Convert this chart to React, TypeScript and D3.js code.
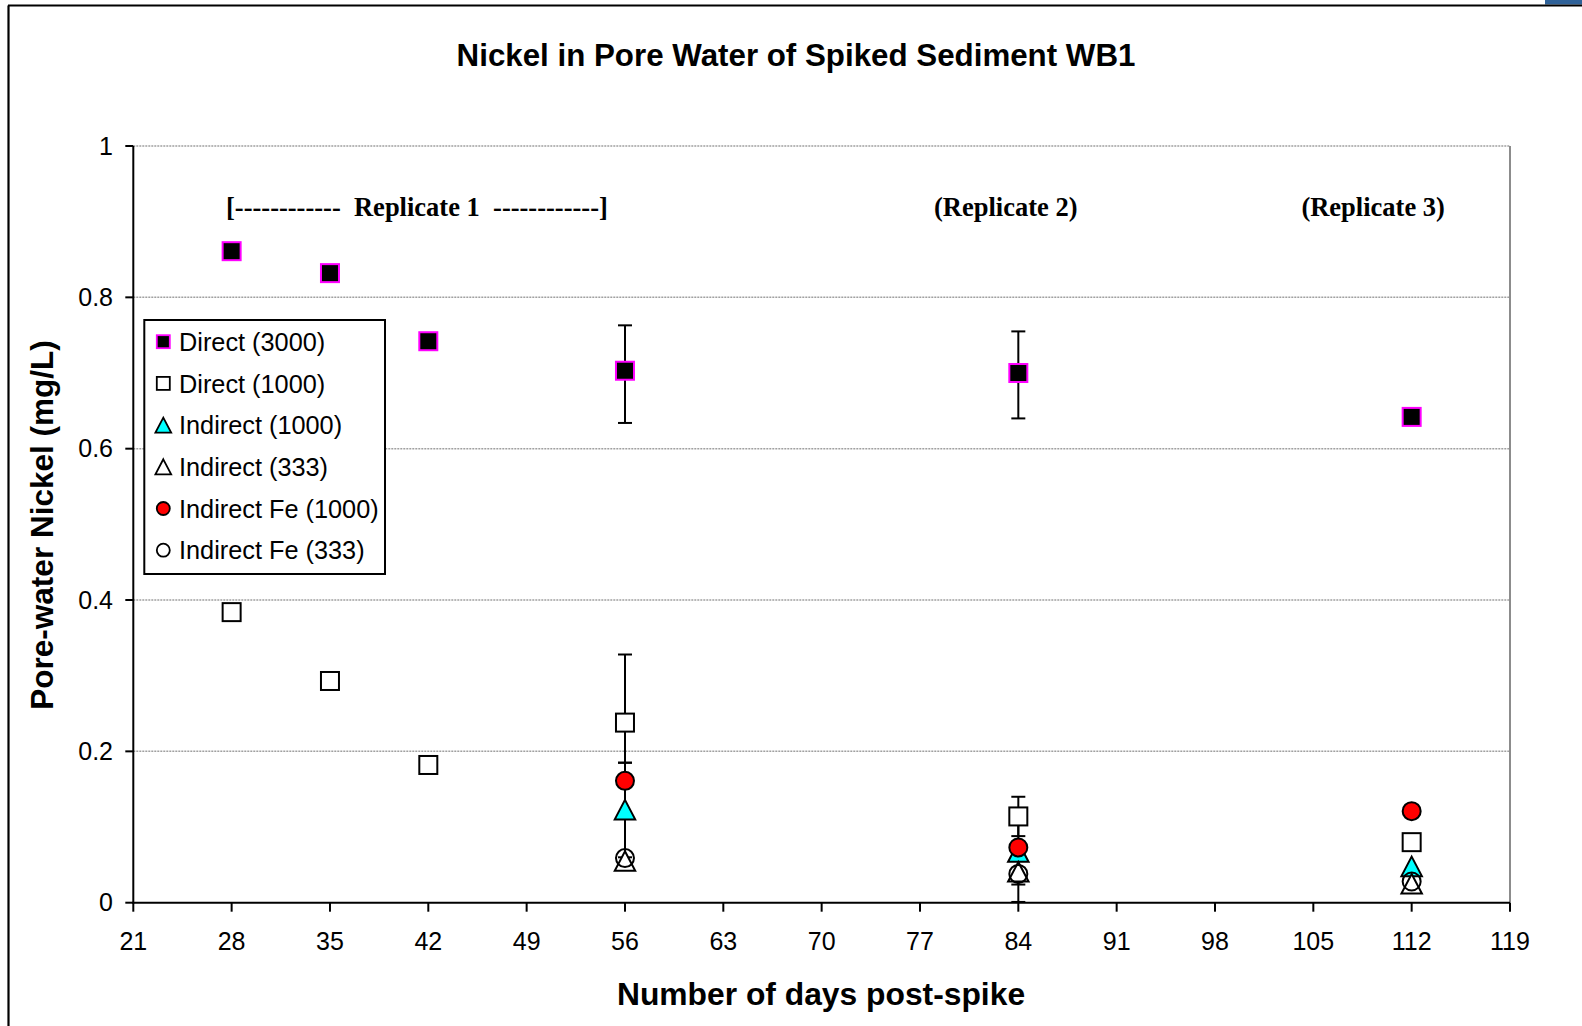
import React from "react";
import * as d3 from "d3";

const days = [28, 35, 42, 56, 84, 112];
const direct3000 = [0.861, 0.832, 0.742, 0.703, 0.700, 0.642];
const direct3000Low = [null, null, null, 0.634, 0.640, null];
const direct3000High = [null, null, null, 0.763, 0.755, null];
const direct1000 = [0.384, 0.293, 0.182, 0.238, 0.114, 0.080];
const direct1000Low = [null, null, null, 0.185, 0.088, null];
const direct1000High = [null, null, null, 0.328, 0.140, null];
const indirect1000 = [null, null, null, 0.123, 0.067, 0.048];
const indirect1000Low = [null, null, null, 0.060, 0.024, null];
const indirect1000High = [null, null, null, 0.185, 0.110, null];
const indirect333 = [null, null, null, 0.055, 0.041, 0.025];
const indirect333Low = [null, null, null, null, 0.001, null];
const indirect333High = [null, null, null, null, 0.080, null];
const indirectFe1000 = [null, null, null, 0.161, 0.073, 0.121];
const indirectFe333 = [null, null, null, 0.059, 0.038, 0.028];

const xTicks = [21, 28, 35, 42, 49, 56, 63, 70, 77, 84, 91, 98, 105, 112, 119];
const yTicks = [0, 0.2, 0.4, 0.6, 0.8, 1];
const seriesNames = [
  "Direct (3000)",
  "Direct (1000)",
  "Indirect (1000)",
  "Indirect (333)",
  "Indirect Fe (1000)",
  "Indirect Fe (333)",
];
const annotationTexts = ["[------------  Replicate 1  ------------]", "(Replicate 2)", "(Replicate 3)"];
const annotationDays = [27.6, 78.0, 104.15];

type Shape = "square" | "triangle" | "circle";
interface Series {
  name: string;
  values: (number | null)[];
  low?: (number | null)[];
  high?: (number | null)[];
  shape: Shape;
  fill: string;
  stroke: string;
}

const series: Series[] = [
  { name: seriesNames[0], values: direct3000, low: direct3000Low, high: direct3000High, shape: "square", fill: "#000000", stroke: "#ff00ff" },
  { name: seriesNames[1], values: direct1000, low: direct1000Low, high: direct1000High, shape: "square", fill: "#ffffff", stroke: "#000000" },
  { name: seriesNames[2], values: indirect1000, low: indirect1000Low, high: indirect1000High, shape: "triangle", fill: "#00ffff", stroke: "#000000" },
  { name: seriesNames[3], values: indirect333, low: indirect333Low, high: indirect333High, shape: "triangle", fill: "#ffffff", stroke: "#000000" },
  { name: seriesNames[4], values: indirectFe1000, shape: "circle", fill: "#ff0000", stroke: "#000000" },
  { name: seriesNames[5], values: indirectFe333, shape: "circle", fill: "none", stroke: "#000000" },
];

const W = 1582;
const H = 1026;
const left = 133.3;
const right = 1510;
const top = 146;
const bottom = 902.7;

const SANS = "'Liberation Sans', Arial, sans-serif";
const SERIF = "'Liberation Serif', 'Times New Roman', serif";

function Marker({ shape, cx, cy, size, fill, stroke, sw }: { shape: Shape; cx: number; cy: number; size: number; fill: string; stroke: string; sw: number }) {
  if (shape === "square") {
    return <rect x={cx - size / 2} y={cy - size / 2} width={size} height={size} fill={fill} stroke={stroke} strokeWidth={sw} />;
  }
  if (shape === "circle") {
    return <circle cx={cx} cy={cy} r={size / 2} fill={fill} stroke={stroke} strokeWidth={sw} />;
  }
  const h = size;
  const w = size * 1.05;
  const p = `M${cx},${cy - h / 2} L${cx + w / 2},${cy + h / 2} L${cx - w / 2},${cy + h / 2} Z`;
  return <path d={p} fill={fill} stroke={stroke} strokeWidth={sw} strokeLinejoin="miter" />;
}

export default function App() {
  const x = d3.scaleLinear().domain([21, 119]).range([left, right]);
  const y = d3.scaleLinear().domain([0, 1]).range([bottom, top]);

  const legendX = 144.3;
  const legendY = 320;
  const legendW = 240.7;
  const legendH = 254;
  const rowH = 41.7;

  return (
    <svg width={W} height={H} style={{ position: "absolute", left: 0, top: 0 }}>
      <rect x={0} y={0} width={W} height={H} fill="#ffffff" />
      <rect x={1545} y={0} width={37} height={4.5} fill="#2f6299" />
      <line x1={8} y1={5.5} x2={W} y2={5.5} stroke="#000" strokeWidth={2.2} />
      <line x1={8.5} y1={5.5} x2={8.5} y2={H} stroke="#000" strokeWidth={2.2} />

      {/* gridlines */}
      {yTicks.filter((t) => t > 0).map((t) => (
        <line key={t} x1={left} x2={right} y1={y(t)} y2={y(t)} stroke="#a0a0a0" strokeWidth={1.5} strokeDasharray="2,1" />
      ))}
      <line x1={right} x2={right} y1={top} y2={bottom} stroke="#8c8c8c" strokeWidth={2} />

      {/* axes */}
      <line x1={left} x2={left} y1={top} y2={bottom + 1} stroke="#000" strokeWidth={2} />
      <line x1={left - 1} x2={right} y1={bottom} y2={bottom} stroke="#000" strokeWidth={2} />
      {yTicks.map((t) => (
        <g key={t}>
          <line x1={left - 8} x2={left} y1={y(t)} y2={y(t)} stroke="#000" strokeWidth={2} />
          <text x={113} y={y(t)} dy="0.35em" textAnchor="end" fontFamily={SANS} fontSize={25} fill="#000">
            {d3.format("")(t)}
          </text>
        </g>
      ))}
      {xTicks.map((t) => (
        <g key={t}>
          <line x1={x(t)} x2={x(t)} y1={bottom} y2={bottom + 9} stroke="#000" strokeWidth={2} />
          <text x={x(t)} y={950} textAnchor="middle" fontFamily={SANS} fontSize={25} fill="#000">
            {t}
          </text>
        </g>
      ))}

      {/* annotations */}
      {annotationTexts.map((t, i) => (
        <text key={t} x={x(annotationDays[i])} y={216} textAnchor="start" fontFamily={SERIF} fontWeight="bold" fontSize={26.5} fill="#000" style={{ whiteSpace: "pre" }}>
          {t}
        </text>
      ))}

      {/* error bars */}
      {series.map((s) =>
        days.map((d, i) => {
          const lo = s.low ? s.low[i] : null;
          const hi = s.high ? s.high[i] : null;
          if (lo == null || hi == null) return null;
          const cx = x(d);
          return (
            <g key={s.name + d + "e"}>
              <line x1={cx} x2={cx} y1={y(lo)} y2={y(hi)} stroke="#000" strokeWidth={2} />
              <line x1={cx - 7} x2={cx + 7} y1={y(lo)} y2={y(lo)} stroke="#000" strokeWidth={2} />
              <line x1={cx - 7} x2={cx + 7} y1={y(hi)} y2={y(hi)} stroke="#000" strokeWidth={2} />
            </g>
          );
        })
      )}

      {/* markers */}
      {series.map((s) =>
        days.map((d, i) => {
          const v = s.values[i];
          if (v == null) return null;
          const size = s.shape === "circle" ? 18 : s.shape === "triangle" ? 19.5 : 18;
          return (
            <Marker key={s.name + d} shape={s.shape} cx={x(d)} cy={y(v)} size={size} fill={s.fill} stroke={s.stroke} sw={2} />
          );
        })
      )}

      {/* legend */}
      <rect x={legendX} y={legendY} width={legendW} height={legendH} fill="#ffffff" stroke="#000" strokeWidth={2} />
      {series.map((s, i) => {
        const cy = legendY + 21.7 + i * rowH;
        return (
          <g key={s.name + "leg"}>
            <Marker shape={s.shape} cx={163.3} cy={cy} size={s.shape === "triangle" ? 15 : 13} fill={s.fill === "none" ? "#ffffff" : s.fill} stroke={s.stroke} sw={1.8} />
            <text x={179} y={cy} dy="0.36em" fontFamily={SANS} fontSize={25.3} fill="#000">
              {s.name}
            </text>
          </g>
        );
      })}

      {/* titles */}
      <text x={796} y={66} textAnchor="middle" fontFamily={SANS} fontWeight="bold" fontSize={31.3} fill="#000">
        Nickel in Pore Water of Spiked Sediment WB1
      </text>
      <text x={821} y={1005} textAnchor="middle" fontFamily={SANS} fontWeight="bold" fontSize={31.8} fill="#000">
        Number of days post-spike
      </text>
      <text transform="translate(53,525) rotate(-90)" textAnchor="middle" fontFamily={SANS} fontWeight="bold" fontSize={31.5} fill="#000">
        Pore-water Nickel (mg/L)
      </text>
    </svg>
  );
}
